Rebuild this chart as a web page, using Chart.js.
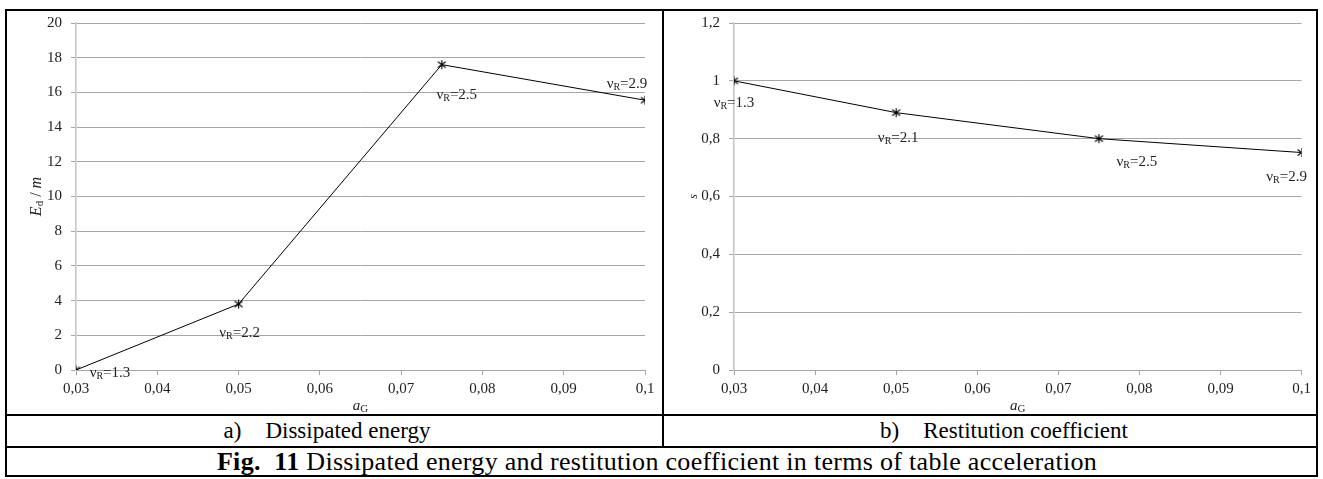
<!DOCTYPE html>
<html>
<head>
<meta charset="utf-8">
<script src="https://cdn.jsdelivr.net/npm/chart.js@4/dist/chart.umd.min.js"></script>
<style>
  body { margin: 0; background: #fff; font-family: "Liberation Serif", "Times New Roman", serif; color: #000; }
  .frame { position: absolute; left: 5px; top: 9px; width: 1313px; height: 468px; border: 2px solid #000; box-sizing: border-box; }
  .hline { position: absolute; left: 5px; width: 1313px; height: 2px; background: #000; }
  .vline { position: absolute; left: 662px; top: 9px; width: 2px; height: 438px; background: #000; }
  .box { position: absolute; top: 5px; height: 408px; }
  .cap { position: absolute; display: flex; align-items: center; justify-content: center; font-size: 23px; white-space: pre; }
</style>
</head>
<body>
<div class="frame"></div>
<div class="hline" style="top:414px"></div>
<div class="hline" style="top:446px"></div>
<div class="vline"></div>
<div class="box" style="left:7px;width:654px"><canvas id="energyChart"></canvas></div>
<div class="box" style="left:665px;width:651px"><canvas id="restChart"></canvas></div>
<div class="cap" style="left:7px;width:640px;top:416px;height:30px"><span>a)</span><span style="display:inline-block;width:24px"></span><span>Dissipated energy</span></div>
<div class="cap" style="left:664px;width:680px;top:416px;height:30px"><span>b)</span><span style="display:inline-block;width:24px"></span><span>Restitution coefficient</span></div>
<div class="cap" style="left:7px;width:1300px;top:447px;height:29px;font-size:26px;letter-spacing:0.3px"><b>Fig.  11</b> Dissipated energy and restitution coefficient in terms of table acceleration</div>
<script>
// table acceleration a_G
const accel = [0.03, 0.05, 0.075, 0.1];
// a) dissipated energy E_d / m
const energy = [0, 3.8, 17.6, 15.55];
const energyNuR = ['1.3', '2.2', '2.5', '2.9'];
// b) restitution coefficient s
const restitution = [1.0, 0.89, 0.8, 0.752];
const restNuR = ['1.3', '2.1', '2.5', '2.9'];
// axis ranges [min, max, step]
const accelRange = [0.03, 0.1, 0.01];
const energyRange = [0, 20, 2];
const restRange = [0, 1.2, 0.2];

const serif = '"Liberation Serif", "Times New Roman", serif';
const gridColor = '#a6a6a6';

function fmt(v) {
  return Number(v.toFixed(3)).toString().replace('.', ',');
}

// excel-like asterisk marker
function makeStar() {
  const c = document.createElement('canvas');
  c.width = 11; c.height = 11;
  const g = c.getContext('2d');
  g.strokeStyle = '#000';
  g.lineWidth = 1.1;
  g.beginPath();
  g.moveTo(5.5, 1); g.lineTo(5.5, 10);
  g.moveTo(1.5, 2.5); g.lineTo(9.5, 8.5);
  g.moveTo(9.5, 2.5); g.lineTo(1.5, 8.5);
  g.stroke();
  return c;
}

// draw a run of [text, font, baselineShift] pieces centred on cx,cy
function drawPieces(ctx, pieces, cx, cy, rotate) {
  ctx.save();
  ctx.translate(cx, cy);
  if (rotate) ctx.rotate(-Math.PI / 2);
  let total = 0;
  pieces.forEach(p => { ctx.font = p[1]; total += ctx.measureText(p[0]).width; });
  let x = -total / 2;
  ctx.fillStyle = '#222';
  ctx.textAlign = 'left';
  ctx.textBaseline = 'alphabetic';
  pieces.forEach(p => {
    ctx.font = p[1];
    ctx.fillText(p[0], x, 5 + p[2]);
    x += ctx.measureText(p[0]).width;
  });
  ctx.restore();
}

function labelPlugin(nuR, offsets, yTitle, yTitleDx) {
  return {
    id: 'labels',
    afterDatasetsDraw(chart) {
      const ctx = chart.ctx;
      const pts = chart.getDatasetMeta(0).data;
      pts.forEach((pt, i) => {
        drawPieces(ctx, [
          ['ν', '15px ' + serif, 0],
          ['R', '10px ' + serif, 2],
          ['=' + nuR[i], '15px ' + serif, 0]
        ], pt.x + offsets[i][0], pt.y + offsets[i][1], false);
      });
      const a = chart.chartArea;
      drawPieces(ctx, [
        ['a', 'italic 15px ' + serif, 0],
        ['G', '11px ' + serif, 2]
      ], (a.left + a.right) / 2, a.bottom + 35, false);
      drawPieces(ctx, yTitle, a.left + yTitleDx, (a.top + a.bottom) / 2, true);
    }
  };
}

function makeChart(id, values, yRange, nuR, offsets, yTitle, yTitleDx, padRight) {
  const star = makeStar();
  return new Chart(document.getElementById(id), {
    type: 'line',
    data: {
      datasets: [{
        data: accel.map((x, i) => ({ x: x, y: values[i] })),
        borderColor: '#000',
        borderWidth: 1,
        tension: 0,
        pointStyle: star,
        pointRadius: 5,
        fill: false
      }]
    },
    options: {
      responsive: true,
      maintainAspectRatio: false,
      animation: false,
      events: [],
      layout: { padding: { left: 0, right: padRight, top: 5, bottom: 0 } },
      plugins: { legend: { display: false }, tooltip: { enabled: false } },
      scales: {
        x: {
          type: 'linear',
          min: accelRange[0], max: accelRange[1],
          afterFit: s => { s.height = 43; },
          ticks: { stepSize: accelRange[2], callback: fmt, color: '#222', font: { family: serif, size: 15 }, padding: 5, maxRotation: 0 },
          grid: { drawOnChartArea: false, drawTicks: true, tickLength: 5, tickColor: gridColor },
          border: { color: gridColor, width: 1 }
        },
        y: {
          min: yRange[0], max: yRange[1],
          afterFit: s => { s.width = 69; },
          ticks: { stepSize: yRange[2], callback: fmt, color: '#222', font: { family: serif, size: 15 }, padding: 9 },
          grid: { color: gridColor, lineWidth: 1, tickLength: 5 },
          border: { color: '#c4c4c4', width: 1.5 }
        }
      }
    },
    plugins: [labelPlugin(nuR, offsets, yTitle, yTitleDx)]
  });
}

makeChart('energyChart', energy, energyRange, energyNuR,
  [[34, 2], [1, 28], [15, 29], [-18, -17]],
  [['E', 'italic 16px ' + serif, 0], ['d', '11px ' + serif, 2], [' / ', '16px ' + serif, 0], ['m', 'italic 16px ' + serif, 0]],
  -40, 16);

makeChart('restChart', restitution, restRange, restNuR,
  [[0, 21], [2, 24], [38, 22], [-15, 23]],
  [['s', 'italic 12px ' + serif, 0]],
  -42, 13);
</script>
</body>
</html>
